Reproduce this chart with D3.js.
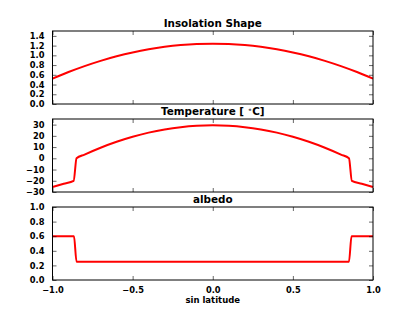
<!DOCTYPE html>
<html>
<head>
<meta charset="utf-8">
<script src="https://cdn.jsdelivr.net/npm/d3@7"></script>
<style>
  body { margin: 0; background: #fff; }
  text { font-family: "DejaVu Sans", sans-serif; font-weight: bold; fill: #000; }
  .tick text { font-size: 8.3px; }
  .title { font-size: 10.4px; }
  .axisLabel { font-size: 8.5px; }
</style>
</head>
<body>
<div id="chart"></div>
<script>
// Data
var insolX = [-1.0, -0.9, -0.8, -0.7, -0.6, -0.5, -0.4, -0.3, -0.2, -0.1, 0.0, 0.1, 0.2, 0.3, 0.4, 0.5, 0.6, 0.7, 0.8, 0.9, 1.0];
var insolY = [0.520, 0.657, 0.779, 0.887, 0.981, 1.060, 1.125, 1.175, 1.211, 1.233, 1.240, 1.233, 1.211, 1.175, 1.125, 1.060, 0.981, 0.887, 0.779, 0.657, 0.520];

var tempX = [-1.0, -0.93, -0.868, -0.85, -0.8, -0.7, -0.6, -0.5, -0.4, -0.3, -0.2, -0.1, 0.0, 0.1, 0.2, 0.3, 0.4, 0.5, 0.6, 0.7, 0.8, 0.85, 0.868, 0.93, 1.0];
var tempY = [-25.5, -22.6, -20, 0, 3.33, 9.43, 14.72, 19.19, 22.85, 25.69, 27.72, 28.94, 29.35, 28.94, 27.72, 25.69, 22.85, 19.19, 14.72, 9.43, 3.33, 0, -20, -22.6, -25.5];

var albedoX = [-1.0, -0.866, -0.85, 0.85, 0.866, 1.0];
var albedoY = [0.6, 0.6, 0.25, 0.25, 0.6, 0.6];

var xTicks = [-1.0, -0.5, 0.0, 0.5, 1.0];
var insolTicks = [0.0, 0.2, 0.4, 0.6, 0.8, 1.0, 1.2, 1.4];
var tempTicks = [-30, -20, -10, 0, 10, 20, 30];
var albedoTicks = [0.0, 0.2, 0.4, 0.6, 0.8, 1.0];

var panels = [
  {title: "Insolation", xs: insolX, ys: insolY, domain: [0, 1.5], ticks: insolTicks, fmt: d3.format(".1f"), top: 31},
  {title: "Temperature", xs: tempX, ys: tempY, domain: [-30, 35], ticks: tempTicks, fmt: d3.format("d"), top: 119},
  {title: "albedo", xs: albedoX, ys: albedoY, domain: [0, 1], ticks: albedoTicks, fmt: d3.format(".1f"), top: 207}
];

// Set Spacing Guidelines
var totalWidth = 415, totalHeight = 312;
var left = 52.5, right = 373;
var panelHeight = 73;

var svg = d3.select("#chart")
  .append("svg")
  .attr("width", totalWidth)
  .attr("height", totalHeight);

var xScale = d3.scaleLinear().domain([-1, 1]).range([left, right]);

panels.forEach(function(p, i) {
  var yScale = d3.scaleLinear().domain(p.domain).range([p.top + panelHeight, p.top]);
  var g = svg.append("g");

  // line
  var line = d3.line()
    .x(function(d) { return xScale(d[0]); })
    .y(function(d) { return yScale(d[1]); })
    .curve(d3.curveMonotoneX);

  g.append("path")
    .datum(d3.zip(p.xs, p.ys))
    .attr("d", line)
    .attr("fill", "none")
    .attr("stroke", "#ff0000")
    .attr("stroke-width", 2);

  // axes with inward ticks
  var showX = (i == panels.length - 1);
  g.append("g")
    .attr("transform", "translate(0," + (p.top + panelHeight) + ")")
    .call(d3.axisBottom(xScale).tickValues(xTicks).tickSizeInner(-4).tickSizeOuter(0)
      .tickPadding(7).tickFormat(showX ? d3.format(".1f") : ""));
  g.append("g")
    .attr("transform", "translate(0," + p.top + ")")
    .call(d3.axisTop(xScale).tickValues(xTicks).tickSizeInner(-4).tickSizeOuter(0).tickFormat(""));
  g.append("g")
    .attr("transform", "translate(" + left + ",0)")
    .call(d3.axisLeft(yScale).tickValues(p.ticks).tickSizeInner(-4).tickSizeOuter(0)
      .tickPadding(8).tickFormat(p.fmt));
  g.append("g")
    .attr("transform", "translate(" + right + ",0)")
    .call(d3.axisRight(yScale).tickValues(p.ticks).tickSizeInner(-4).tickSizeOuter(0).tickFormat(""));

  g.selectAll(".domain").remove();
  g.selectAll(".tick line").attr("stroke", "#000").attr("stroke-width", 0.6);

  // frame
  g.append("rect")
    .attr("x", left)
    .attr("y", p.top)
    .attr("width", right - left)
    .attr("height", panelHeight)
    .attr("fill", "none")
    .attr("stroke", "#000")
    .attr("stroke-width", 1);

  // title
  var t = svg.append("text")
    .attr("class", "title")
    .attr("x", (left + right) / 2)
    .attr("y", p.top - 4)
    .attr("text-anchor", "middle");
  if (p.title == "Temperature") {
    t.append("tspan").text("Temperature [ ");
    t.append("tspan").attr("dy", -3).attr("font-size", "7px").text("\u2218");
    t.append("tspan").attr("dy", 3).text("C]");
  } else if (p.title == "Insolation") {
    t.text("Insolation Shape");
  } else {
    t.text(p.title);
  }
});

// x axis label
svg.append("text")
  .attr("class", "axisLabel")
  .attr("x", (left + right) / 2)
  .attr("y", 302.5)
  .attr("text-anchor", "middle")
  .text("sin latitude");
</script>
</body>
</html>
